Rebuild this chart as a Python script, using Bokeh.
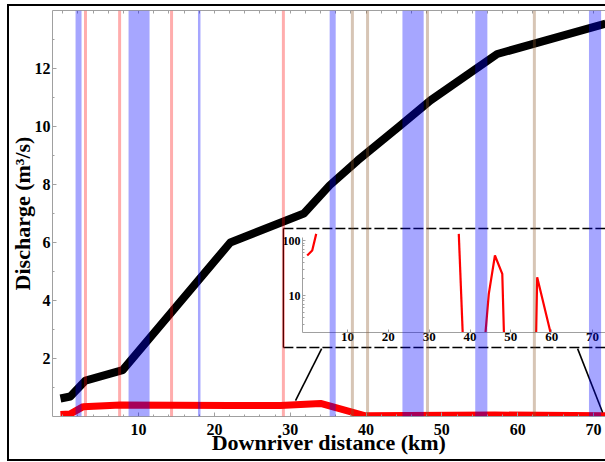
from bokeh.plotting import figure
from bokeh.models import (Range1d, LinearScale, LogScale, LinearAxis, FixedTicker,
                          BoxAnnotation, Span, BasicTickFormatter)
from bokeh.embed import file_html
from bokeh.resources import INLINE

# ---------------- data ----------------
black_km = [-0.3, 1.0, 3.0, 7.9, 22.1, 31.8, 35.2, 38.9, 44.5, 48.5, 57.3, 71.6]
black_q = [0.62, 0.69, 1.24, 1.60, 6.00, 7.00, 7.97, 8.83, 10.03, 10.90, 12.50, 13.55]

red_km = [-0.3, 1.0, 2.7, 7.6, 22.0, 28.7, 34.0, 39.8, 57.0, 71.6]
red_q = [0.07, 0.09, 0.34, 0.40, 0.38, 0.38, 0.45, 0.03, 0.05, 0.03]

inset_km = [[0.12, 1.35, 2.33], [37.25, 38.2], [43.8, 44.6, 46.1, 47.9, 48.3], [56.2, 56.45, 59.7]]
inset_val = [[53.4, 65.8, 132.0], [132.0, 2.15], [2.15, 10.7, 53.4, 24.8, 2.15], [2.15, 21.5, 2.15]]

blue_bands = [(1.69, 2.48), (8.68, 11.45), (35.2, 36.0), (44.8, 47.6), (54.4, 56.0), (69.4, 71.0)]
blue_lines = [18.0]
pink_lines = [3.0, 7.5, 14.35, 29.1]
tan_lines = [38.2, 40.2, 48.1, 62.2]

x_ticks = [10, 20, 30, 40, 50, 60, 70]
x_minor = [0, 2, 4, 6, 8, 12, 14, 16, 18, 22, 24, 26, 28, 32, 34, 36, 38, 42, 44, 46, 48,
           52, 54, 56, 58, 62, 64, 66, 68]
y_ticks = [2, 4, 6, 8, 10, 12]
y_minor = [1, 3, 5, 7, 9, 11, 13]
inset_x_ticks = [10, 20, 30, 40, 50, 60, 70]
inset_y_ticks = [10, 100]
inset_y_minor = [3, 4, 5, 6, 7, 8, 9, 20, 30, 40, 50, 60, 70, 80, 90]

# ---------------- layout constants ----------------
FONT = "Liberation Serif"
W, H = 605, 462
FL, FR, FT, FB = 52, 605, 10, 416          # frame edges (px)
X_RANGE = (-1.35, 71.58)
Y_RANGE = (0.0, 14.0)

# inset placement (page px): x = IX0 + IPX * km ; y = IY10 - IPD * (log10(v) - 1)
IX0, IPX = 306.2, 4.083
IY10, IPD = 295.0, 55.0
INSET_AXIS_X = -1.03
INSET_AXIS_Y = 2.15
INSET_Y_TOP = 113.0
BOX_L, BOX_R, BOX_B, BOX_T = 29.1, 72.5, 2.38, 6.48
CONNECT = dict(x0=[34.15, 67.9], y0=[2.34, 2.34], x1=[30.7, 71.2], y1=[0.55, 0.14])

insx = Range1d((FL - IX0) / IPX, (FR - IX0) / IPX)
insy = Range1d(10 ** (1 - (FB - IY10) / IPD), 10 ** (1 + (IY10 - FT) / IPD))

p = figure(width=W, height=H, output_backend="svg", toolbar_location=None,
           x_range=Range1d(*X_RANGE), y_range=Range1d(*Y_RANGE),
           min_border_left=FL, min_border_right=W - FR, min_border_top=FT,
           min_border_bottom=H - FB,
           border_fill_color=None, background_fill_color="white",
           outline_line_color=None)
p.grid.visible = False

p.extra_x_ranges = {"insx": insx}
p.extra_x_scales = {"insx": LinearScale()}
p.extra_y_ranges = {"insy": insy}
p.extra_y_scales = {"insy": LogScale()}

AX = "#a0a0a0"


def style_axis(ax, size="16px"):
    ax.axis_line_color = AX
    ax.major_tick_line_color = AX
    ax.minor_tick_line_color = AX
    ax.major_tick_in = 4
    ax.major_tick_out = 0
    ax.minor_tick_in = 2
    ax.minor_tick_out = 0
    ax.major_label_text_font = FONT
    ax.major_label_text_font_style = "bold"
    ax.major_label_text_font_size = size
    ax.major_label_text_color = "black"
    ax.axis_label_text_font = FONT
    ax.axis_label_text_font_style = "bold"
    ax.axis_label_text_font_size = "22px"
    ax.axis_label_text_color = "black"


xa = p.xaxis[0]
xa.ticker = FixedTicker(ticks=x_ticks, minor_ticks=x_minor)
style_axis(xa)
xa.major_label_standoff = 7
xa.axis_label = "Downriver distance (km)"
xa.axis_label_standoff = -8

ya = p.yaxis[0]
ya.ticker = FixedTicker(ticks=y_ticks, minor_ticks=y_minor)
style_axis(ya)
ya.major_label_standoff = 2
ya.axis_label = "Discharge (m³/s)"
ya.axis_label_standoff = -3

# top mirror axis: tick marks only, no labels
top = LinearAxis(ticker=FixedTicker(ticks=[], minor_ticks=sorted(x_ticks + x_minor)))
style_axis(top)
top.minor_tick_in = 3
p.add_layout(top, "above")

# main series
p.line(black_km, black_q, line_color="black", line_width=8, line_join="round")
p.line(red_km, red_q, line_color="red", line_width=7, line_join="round")

# inset frame and connectors
p.segment(x0=[BOX_L, BOX_L], y0=[BOX_T, BOX_B], x1=[BOX_R, BOX_R], y1=[BOX_T, BOX_B],
          line_color="black", line_width=1.5, line_dash="10 3")
p.segment(x0=[BOX_L], y0=[BOX_B], x1=[BOX_L], y1=[BOX_T], line_color="black", line_width=1.3)
p.segment(line_color="black", line_width=1.6, **CONNECT)

# inset series
p.multi_line(inset_km, inset_val, line_color="red", line_width=2.2,
             x_range_name="insx", y_range_name="insy")

# inset axes
iy = LinearAxis(x_range_name="insx", y_range_name="insy", fixed_location=INSET_AXIS_X,
                bounds=(INSET_AXIS_Y, INSET_Y_TOP),
                ticker=FixedTicker(ticks=inset_y_ticks, minor_ticks=inset_y_minor),
                formatter=BasicTickFormatter())
style_axis(iy, "12px")
iy.major_tick_in = 3
iy.major_label_standoff = 2
p.add_layout(iy, "left")

ix = LinearAxis(x_range_name="insx", y_range_name="insy", fixed_location=INSET_AXIS_Y,
                bounds=(INSET_AXIS_X, insx.end),
                ticker=FixedTicker(ticks=inset_x_ticks))
style_axis(ix, "13px")
ix.major_tick_in = 3
ix.major_label_standoff = 1
p.add_layout(ix, "below")

# bands and marker lines (drawn over the curves, translucent)
for a, b in blue_bands:
    p.add_layout(BoxAnnotation(left=a, right=b, fill_color="blue", fill_alpha=0.35,
                               line_color=None))
for x in blue_lines:
    p.add_layout(Span(location=x, dimension="height", line_color="blue",
                      line_alpha=0.35, line_width=2.5))
for x in pink_lines:
    p.add_layout(Span(location=x, dimension="height", line_color="red",
                      line_alpha=0.32, line_width=3))
for x in tan_lines:
    p.add_layout(Span(location=x, dimension="height", line_color="#8B5A2B",
                      line_alpha=0.35, line_width=3))

# outer picture border (left, top, bottom)
p.styles = {"background": (
    "linear-gradient(#000,#000) 7px 4px / 2px 457px no-repeat, "
    "linear-gradient(#000,#000) 7px 4px / 598px 2px no-repeat, "
    "linear-gradient(#000,#000) 7px 459px / 598px 2px no-repeat")}

open("out.html", "w").write(file_html(p, INLINE))
